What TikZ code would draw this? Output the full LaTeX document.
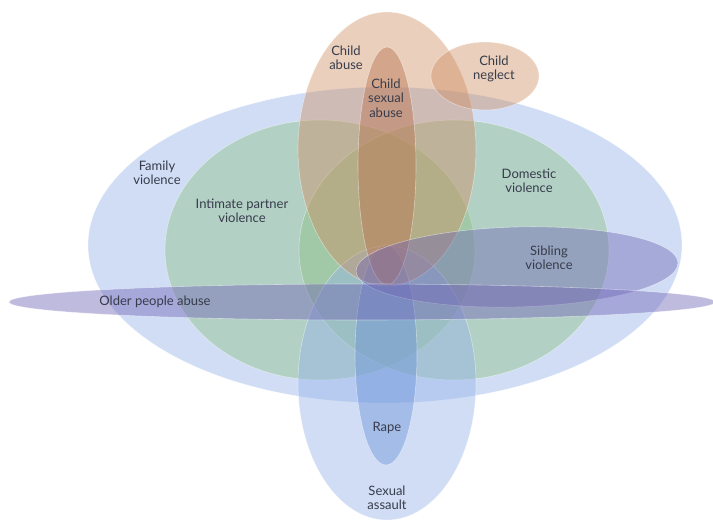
\documentclass[tikz,border=0pt]{standalone}
\usepackage{fontspec}
\setmainfont{Lato}
\usetikzlibrary{shapes.geometric}

\definecolor{famblue}{RGB}{150,180,232}
\definecolor{partgreen}{RGB}{135,190,125}
\definecolor{childorange}{RGB}{205,140,95}
\definecolor{csabrown}{RGB}{185,115,80}
\definecolor{elderpurple}{RGB}{110,100,180}
\definecolor{rapeblue}{RGB}{100,140,215}
\definecolor{labelgray}{RGB}{55,60,75}

\begin{document}
\begin{tikzpicture}[x=1pt,y=-1pt,
  blob/.style={ellipse, inner sep=0pt, draw=white, draw opacity=0.45, line width=0.6pt},
  lbl/.style={text=labelgray, font=\fontsize{13}{14.5}\selectfont, align=center, inner sep=0pt},
]
\useasboundingbox (0,0) rectangle (713,521);

% family violence (outer blue)
\node[blob, fill=famblue, fill opacity=0.45, minimum width=594pt, minimum height=316pt] (fam) at (385,245) {};
% intimate partner and domestic violence (green)
\node[blob, fill=partgreen, fill opacity=0.4, minimum width=310pt, minimum height=260pt] (ipv) at (320,250) {};
\node[blob, fill=partgreen, fill opacity=0.4, minimum width=310pt, minimum height=260pt] (dv) at (454,250) {};
% sexual assault and rape (blue, lower)
\node[blob, fill=famblue, fill opacity=0.45, minimum width=178pt, minimum height=274pt] (sa) at (387,383) {};
\node[blob, fill=rapeblue, fill opacity=0.4, minimum width=62pt, minimum height=220pt] (rape) at (386,355) {};
% child abuse family (orange, upper)
\node[blob, fill=childorange, fill opacity=0.42, minimum width=178pt, minimum height=274pt] (ca) at (387,149) {};
\node[blob, fill=csabrown, fill opacity=0.45, minimum width=58pt, minimum height=238pt] (csa) at (387,166) {};
\node[blob, fill=childorange, fill opacity=0.42, minimum width=108pt, minimum height=68pt] (cn) at (485,76) {};
% sibling and older people abuse (purple)
\node[blob, fill=elderpurple, fill opacity=0.42, minimum width=322pt, minimum height=80pt, rotate=1.5] (sib) at (517,267) {};
\node[blob, fill=elderpurple, fill opacity=0.44, minimum width=706pt, minimum height=36pt] (old) at (362,302) {};

% labels
\node[lbl] (tca)  at (346,58)  {Child\\abuse};
\node[lbl] (tcsa) at (386,98)  {Child\\sexual\\abuse};
\node[lbl] (tcn)  at (494,69)  {Child\\neglect};
\node[lbl] (tfam) at (157,173) {Family\\violence};
\node[lbl] (tipv) at (242,211) {Intimate partner\\violence};
\node[lbl] (tdv)  at (529,181) {Domestic\\violence};
\node[lbl] (tsib) at (549,258) {Sibling\\violence};
\node[lbl] (told) at (155,302) {Older people abuse};
\node[lbl] (trap) at (387,428) {Rape};
\node[lbl] (tsa)  at (387,498) {Sexual\\assault};
\end{tikzpicture}
\end{document}
